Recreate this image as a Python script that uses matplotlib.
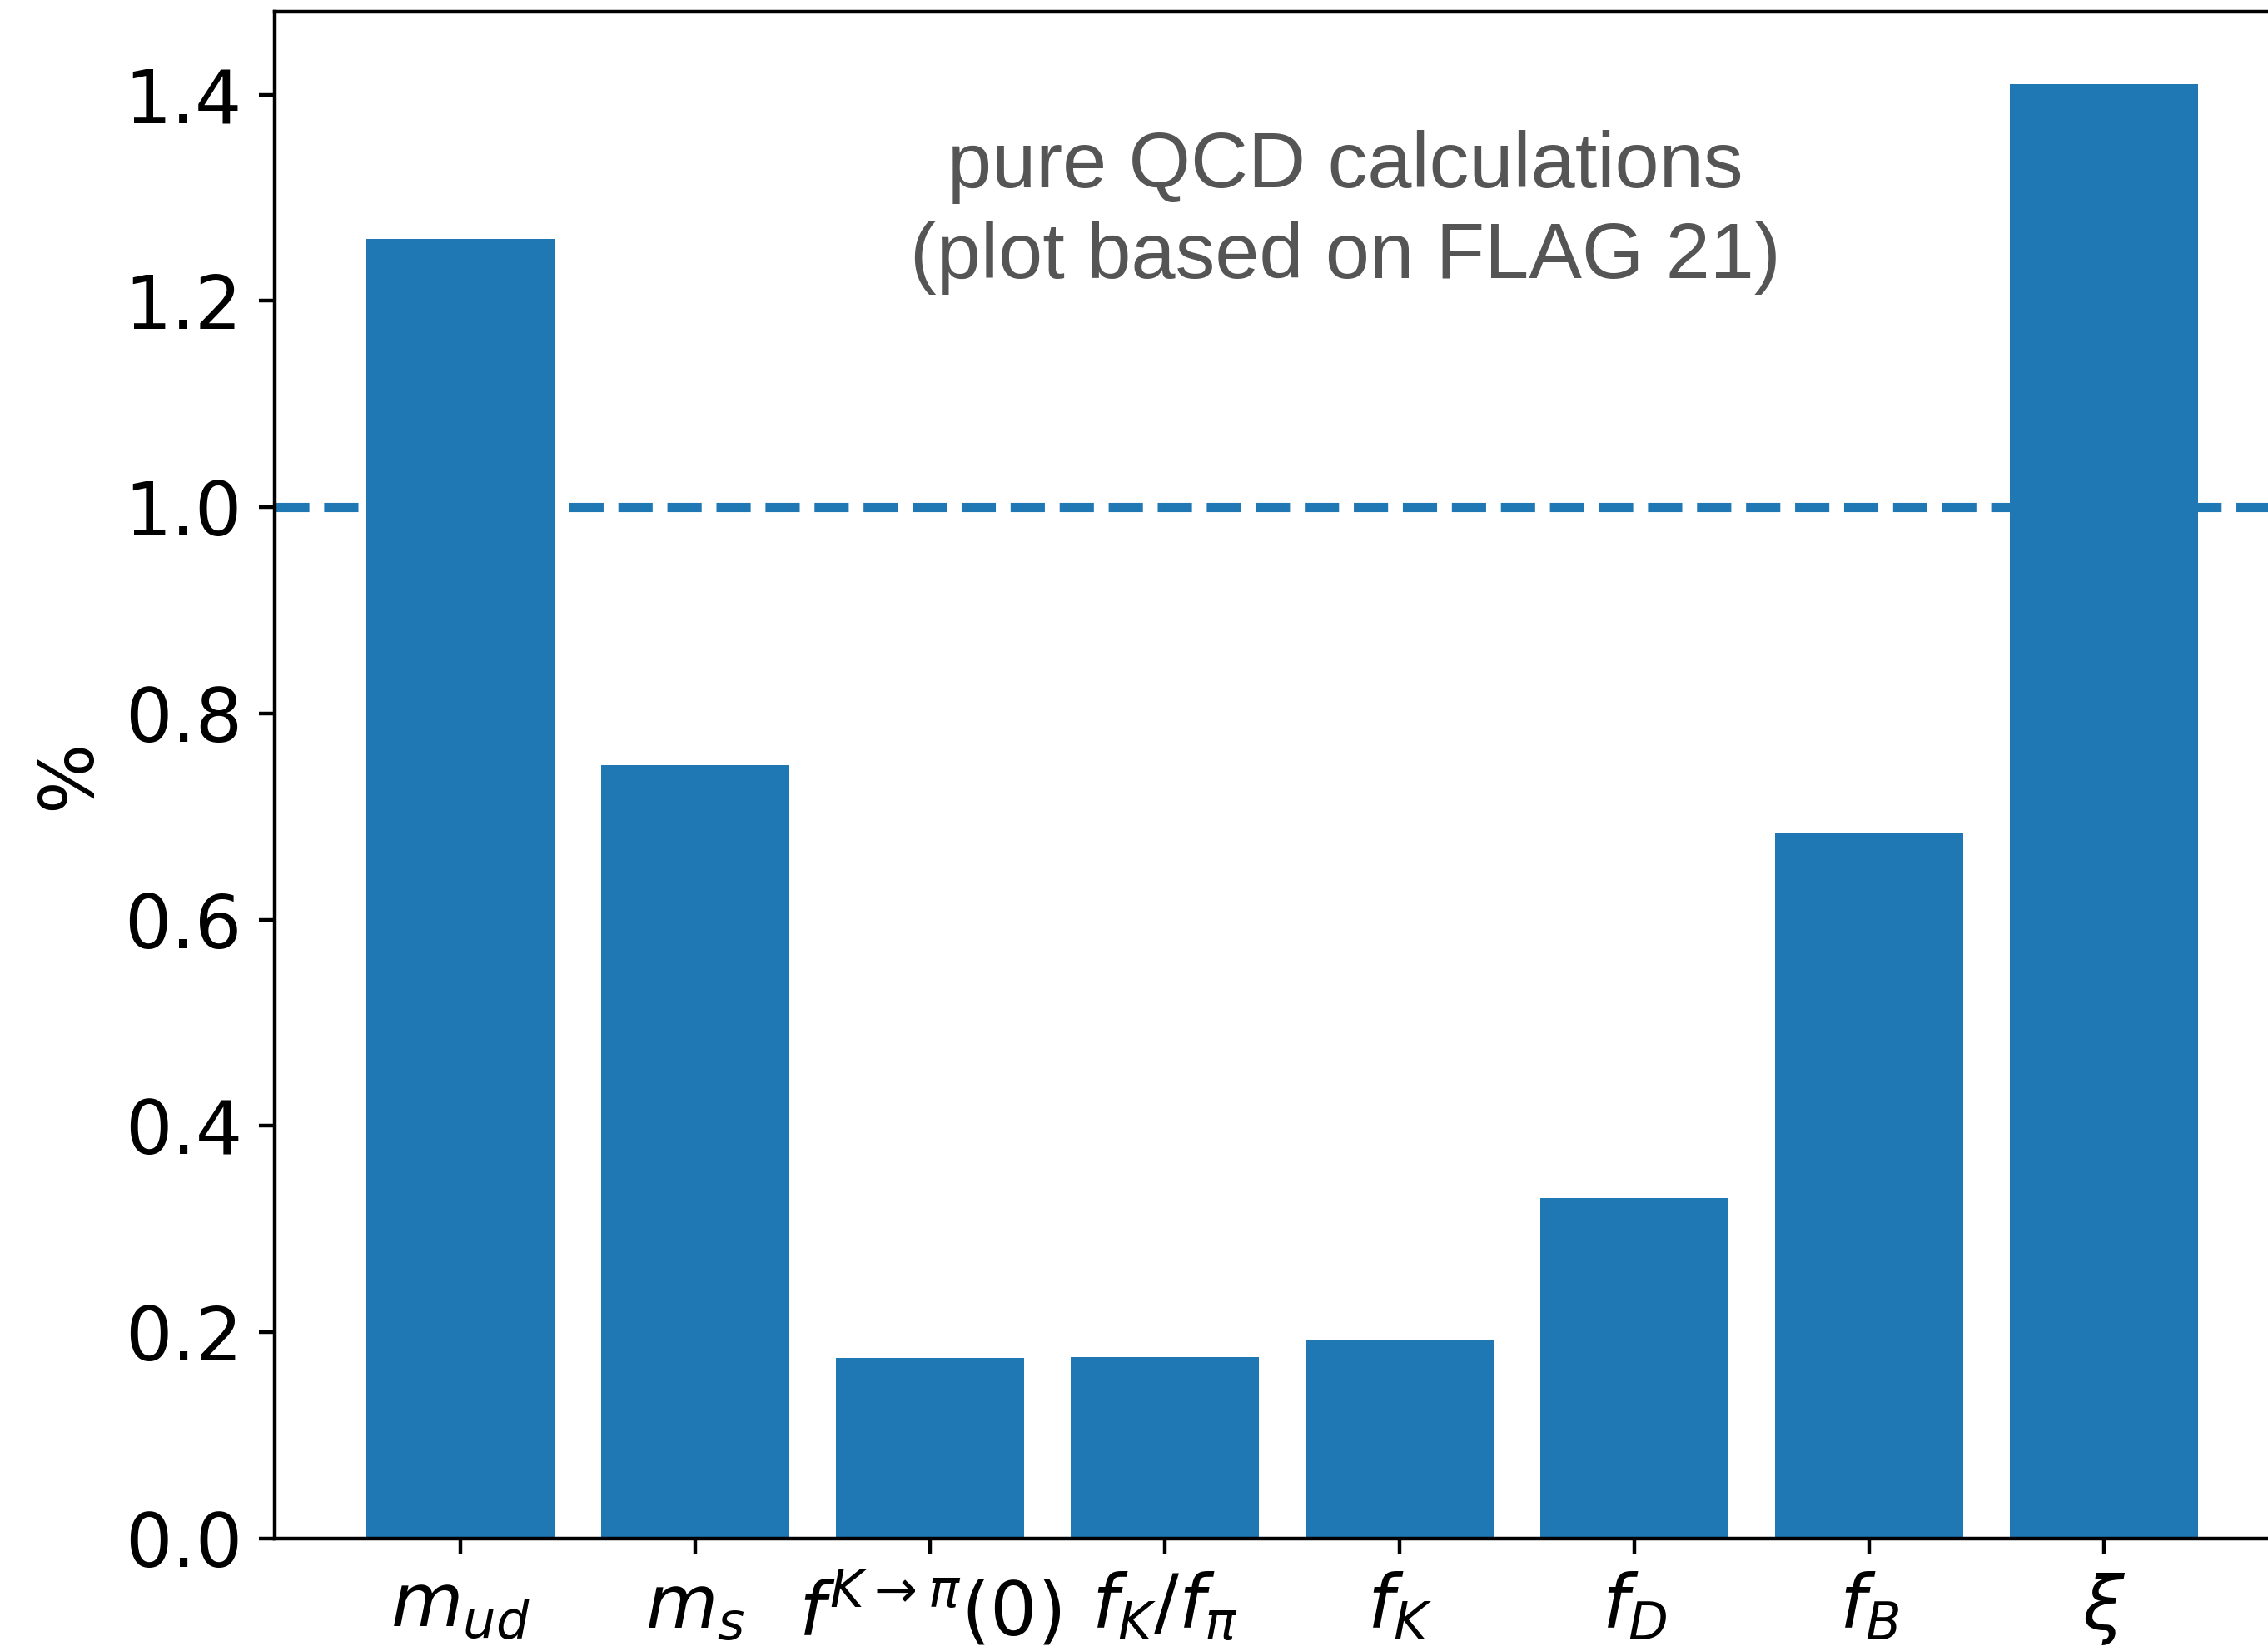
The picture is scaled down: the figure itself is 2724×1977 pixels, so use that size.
import matplotlib
matplotlib.use("Agg")
import matplotlib.pyplot as plt

labels = [r'$m_{ud}$', r'$m_s$', r'$f^{K\to\pi}(0)$', r'$f_K/f_\pi$',
          r'$f_K$', r'$f_D$', r'$f_B$', r'$\xi$']
values = [1.26, 0.75, 0.175, 0.176, 0.192, 0.330, 0.684, 1.41]

fig = plt.figure(figsize=(6.81, 4.9425), dpi=400)
ax = fig.add_axes([0.1211, 0.06525, 1.0095 - 0.1211, 0.99292 - 0.06525])

x = list(range(len(labels)))
ax.bar(x, values, color='#1f77b4', width=0.8)
ax.axhline(1.0, color='#1f77b4', linestyle='--', linewidth=2)
ax.set_xticks(x)
ax.set_xticklabels(labels, fontsize=16)
ax.tick_params(axis='y', labelsize=16)
ax.set_ylabel('%', fontsize=16)
ax.text(3.77, 1.222, 'pure QCD calculations\n(plot based on FLAG 21)',
        ha='center', va='baseline', fontsize=17.2, color='#555555',
        family='Liberation Sans', linespacing=1.3)

fig.savefig('out.png', dpi=400)
